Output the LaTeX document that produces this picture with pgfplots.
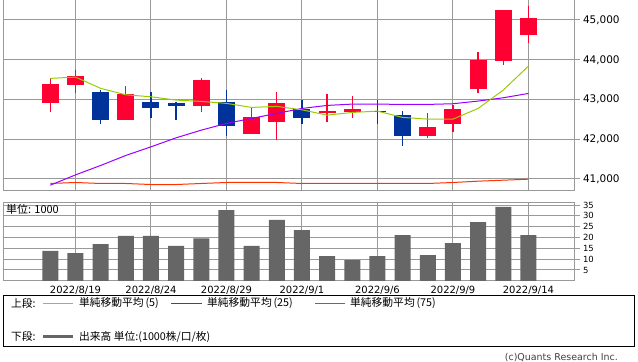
\documentclass[border=0pt]{standalone}
\usepackage{pgfplots}
\usepackage{pgfplotstable}
\pgfplotsset{compat=1.18}
\usepackage{fontspec}
\setmainfont{DejaVu Sans}
\newfontfamily\jp{Noto Sans CJK JP}
\definecolor{gridgray}{RGB}{153,153,153}
\definecolor{cUp}{RGB}{255,0,51}
\definecolor{cDown}{RGB}{0,51,153}
\definecolor{ma5}{RGB}{153,204,0}
\definecolor{ma25}{RGB}{153,0,255}
\definecolor{ma75}{RGB}{255,51,0}
\definecolor{volgray}{RGB}{102,102,102}

% up candles (close > open)
\pgfplotstableread{
i open high low close
0 42917 43530 42690 43388
1 43370 43740 43170 43590
3 42490 43340 42490 43135
6 42840 43540 42690 43490
8 42135 42790 42135 42550
9 42440 43185 41985 42910
11 42650 43135 42440 42710
12 42690 43085 42540 42765
15 42085 42650 42035 42305
16 42390 42860 42190 42760
17 43270 44195 43170 43985
18 43975 45245 43875 45245
19 44630 45355 44430 45045
}\upcandles
% down candles (close < open)
\pgfplotstableread{
i open high low close
2 43190 43250 42390 42490
4 42935 43185 42540 42790
5 42910 42935 42490 42840
7 42935 43245 42080 42340
10 42765 42985 42390 42540
13 42710 42985 42390 42685
14 42605 42710 41835 42085
}\downcandles

\pgfplotsset{
  chartbase/.style={
    scale only axis, width=571.5bp,
    xmin=-1.88, xmax=20.83,
    axis line style={draw=gridgray, line width=1bp},
    xtick={1,4,7,10,13,16,19},
    yticklabel pos=right, ytick pos=right,
    tick align=outside, major tick length=5bp,
    xmajorgrids, ymajorgrids,
    grid style={draw=gridgray, line width=1bp},
    xtick style={draw=none},
    ytick style={draw=gridgray, line width=1bp},
    scaled y ticks=false,
    /pgf/number format/1000 sep={,},
    /pgf/number format/assume math mode=true,
  },
  candle/.style={draw=none, mark=none, forget plot,
    error bars/y dir=plus, error bars/y explicit, error bars/error mark=none,
    error bars/error bar style={draw=#1}},
}

\begin{document}
\begin{tikzpicture}
\path[use as bounding box] (0,0) rectangle (638bp,-362bp);

% ---------- price panel ----------
\begin{axis}[chartbase,
  at={(3bp,-190bp)}, anchor=south west, height=190bp,
  ymin=40723, ymax=45503,
  ytick={41000,42000,43000,44000,45000},
  xticklabels={},
  yticklabel style={font=\fontsize{10.5}{12}\selectfont},
]
% wicks
\addplot[candle=cUp, error bars/error bar style={line width=1.3bp}]
  table[x=i, y=low, y error plus expr=\thisrow{high}-\thisrow{low}] {\upcandles};
\addplot[candle=cDown, error bars/error bar style={line width=1.3bp}]
  table[x=i, y=low, y error plus expr=\thisrow{high}-\thisrow{low}] {\downcandles};
% bodies
\addplot[candle=cUp, error bars/error bar style={line width=17bp}]
  table[x=i, y=open, y error plus expr=\thisrow{close}-\thisrow{open}] {\upcandles};
\addplot[candle=cDown, error bars/error bar style={line width=17bp}]
  table[x=i, y=close, y error plus expr=\thisrow{open}-\thisrow{close}] {\downcandles};
% moving averages
\addplot[ma75, line width=1bp] coordinates {
(0,40887)(1,40912)(2,40887)(3,40887)(4,40861)(5,40861)(6,40887)(7,40912)(8,40912)(9,40912)
(10,40887)(11,40887)(12,40887)(13,40887)(14,40887)(15,40887)(16,40912)(17,40945)(18,40970)(19,40995)};
\addplot[ma25, line width=1bp] coordinates {
(0,40844)(1,41103)(2,41340)(3,41592)(4,41809)(5,42036)(6,42229)(7,42398)(8,42524)(9,42650)
(10,42775)(11,42851)(12,42884)(13,42884)(14,42876)(15,42876)(16,42893)(17,42960)(18,43043)(19,43153)};
\addplot[ma5, line width=1bp] coordinates {
(0,43531)(1,43564)(2,43280)(3,43118)(4,43068)(5,42985)(6,42952)(7,42902)(8,42801)(9,42826)
(10,42740)(11,42607)(12,42674)(13,42708)(14,42549)(15,42506)(16,42506)(17,42775)(18,43237)(19,43841)};
\end{axis}

% ---------- volume panel ----------
\begin{axis}[chartbase,
  at={(3bp,-280.8bp)}, anchor=south west, height=78.8bp,
  ymin=0, ymax=36.4,
  ytick={5,10,15,20,25,30,35},
  xticklabels={2022/8/19,2022/8/24,2022/8/29,2022/9/1,2022/9/6,2022/9/9,2022/9/14},
  xticklabel style={font=\fontsize{10}{12}\selectfont, yshift=3.5bp},
  yticklabel style={font=\fontsize{8.5}{9}\selectfont},
  ybar, bar width=16bp,
]
\addplot[fill=volgray, draw=none] coordinates {
(0,13.8)(1,12.8)(2,17.0)(3,20.7)(4,20.7)(5,16.1)(6,19.6)(7,32.7)(8,16.1)(9,28.1)
(10,23.4)(11,11.4)(12,9.6)(13,11.4)(14,21.1)(15,11.9)(16,17.4)(17,27.1)(18,34.1)(19,21.1)};
\end{axis}
\node[anchor=west, inner sep=0pt, font=\jp\fontsize{11}{12}\selectfont] at (6bp,-209bp) {単位: 1000};

% ---------- legend ----------
\draw[black, line width=1bp] (3.5bp,-295.5bp) rectangle (634.5bp,-346bp);
\begin{scope}[every node/.style={anchor=west, inner sep=0pt, font=\jp\fontsize{10.8}{12}\selectfont}]
\node at (11bp,-303.3bp) {上段:};
\draw[ma5, line width=1.2bp] (43bp,-303.3bp) -- (73bp,-303.3bp);
\node at (79bp,-303.3bp) {単純移動平均\,(5)};
\draw[ma25, line width=1.2bp] (171bp,-303.3bp) -- (202bp,-303.3bp);
\node at (207bp,-303.3bp) {単純移動平均\,(25)};
\draw[ma75, line width=1.2bp] (315bp,-303.3bp) -- (345bp,-303.3bp);
\node at (350bp,-303.3bp) {単純移動平均\,(75)};
\node at (11bp,-336.7bp) {下段:};
\draw[volgray, line width=3.5bp] (43bp,-336.7bp) -- (73bp,-336.7bp);
\node at (79bp,-336.7bp) {出来高 単位:(1000株/口/枚)};
\end{scope}
\node[anchor=east, inner sep=0pt, font=\fontsize{9.5}{11}\selectfont, text=black!75] at (618bp,-357.7bp) {(c)Quants Research Inc.};
\end{tikzpicture}
\end{document}
